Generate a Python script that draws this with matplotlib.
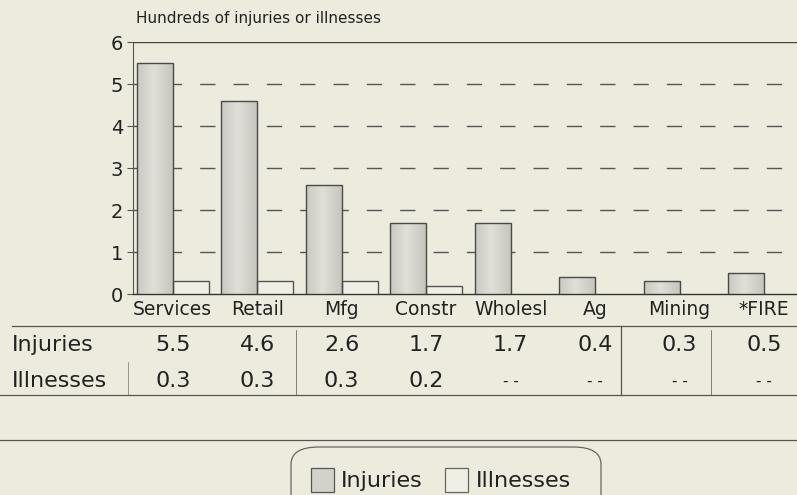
import numpy as np
import matplotlib.pyplot as plt
from matplotlib.colors import LinearSegmentedColormap
from matplotlib.lines import Line2D
from matplotlib.patches import FancyBboxPatch, Rectangle

plt.rcParams['font.family'] = ['DejaVu Sans']

categories = ["Services", "Retail", "Mfg", "Constr", "Wholesl", "Ag", "Mining", "*FIRE"]
injuries = [5.5, 4.6, 2.6, 1.7, 1.7, 0.4, 0.3, 0.5]
illnesses = [0.3, 0.3, 0.3, 0.2, None, None, None, None]
yticks = [0, 1, 2, 3, 4, 5, 6]

bg = "#ecebdd"
ink = "#222222"
W, H = 797, 495
fig = plt.figure(figsize=(W / 100, H / 100), dpi=100, facecolor=bg)


def px(x, y):
    return x / W, 1 - y / H


# plot box in pixels: left 133, right 797, y=6 at 42, y=0 at 294
ax = fig.add_axes([133 / W, 1 - 294 / H, (797 - 133) / W, (294 - 42) / H])
ax.set_facecolor(bg)

x = np.arange(len(categories))
bw = 0.427
shade = LinearSegmentedColormap.from_list("shade", ["#c4c4bb", "#e0e0d8"])
grad = np.linspace(0, 1, 60)
grad = (1 - np.abs(grad - 0.45) * 1.8).reshape(1, -1)
for xi, v in zip(x, injuries):
    bar = ax.bar(xi - bw / 2, v, width=bw, facecolor="none", edgecolor="#4a4a4a", linewidth=1.0, zorder=4)[0]
    im = ax.imshow(grad, extent=[xi - bw, xi, 0, v], aspect="auto", cmap=shade, vmin=0, vmax=1, zorder=3)
    im.set_clip_path(bar)
for xi, v in zip(x, illnesses):
    if v is not None:
        ax.bar(xi + bw / 2, v, width=bw, color="#f0efe5", edgecolor="#555555", linewidth=1.0, zorder=3)

for t in yticks[1:-1]:
    ax.axhline(t, color="#555555", lw=1.0, dashes=(11, 13), zorder=1)
ax.axhline(6, color="#444444", lw=1.0, zorder=1)

ax.set_ylim(0, 6)
ax.set_xlim(-0.47, 7.39)
for s in ["top", "right"]:
    ax.spines[s].set_visible(False)
ax.spines["left"].set_color("#555555")
ax.spines["left"].set_linewidth(0.8)
ax.spines["bottom"].set_color("#333333")
ax.spines["bottom"].set_linewidth(1.0)
ax.set_yticks(yticks)
ax.set_yticklabels([str(t) for t in yticks], fontsize=14, color=ink)
ax.tick_params(axis="y", length=4, pad=3, color="#555555")
ax.set_xticks(x)
ax.set_xticklabels(categories, fontsize=13.5, color=ink)
ax.tick_params(axis="x", length=0, pad=4)

fig.text(*px(136, 18), "Hundreds of injuries or illnesses", fontsize=11, va="center", ha="left", color=ink)

# data table under the chart
col_x = [ax.transData.transform((xi, 0))[0] for xi in x]
row_y = [345, 381]
fig.text(*px(12, row_y[0]), "Injuries", fontsize=16, va="center", ha="left", color=ink)
fig.text(*px(12, row_y[1]), "Illnesses", fontsize=16, va="center", ha="left", color=ink)
for cx, inj, ill in zip(col_x, injuries, illnesses):
    fig.text(cx / W, 1 - row_y[0] / H, f"{inj:.1f}", fontsize=16, va="center", ha="center", color=ink)
    fig.text(cx / W, 1 - row_y[1] / H, "- -" if ill is None else f"{ill:.1f}",
             fontsize=16 if ill is not None else 11, va="center", ha="center", color=ink)

lines = [
    ((12, 326), (797, 326), 0.9),
    ((0, 395), (797, 395), 0.9),
    ((0, 440), (797, 440), 0.9),
    ((296, 330), (296, 395), 0.5),
    ((621, 326), (621, 395), 0.9),
    ((711, 330), (711, 395), 0.5),
    ((128, 362), (128, 395), 0.4),
]
for (x0, y0), (x1, y1), lw in lines:
    fig.add_artist(Line2D([x0 / W, x1 / W], [1 - y0 / H, 1 - y1 / H], color="#555555", lw=lw,
                          transform=fig.transFigure))

# legend
fig.add_artist(FancyBboxPatch(px(291, 515), 310 / W, 68 / H,
                              boxstyle="round,pad=0,rounding_size=0.035",
                              transform=fig.transFigure, facecolor=bg, edgecolor="#666666", lw=0.9))
fig.add_artist(Rectangle(px(311, 492), 23 / W, 24 / H, transform=fig.transFigure,
                         facecolor="#d2d2c9", edgecolor="#555555", lw=0.9))
fig.text(*px(341, 481), "Injuries", fontsize=16, va="center", ha="left", color=ink)
fig.add_artist(Rectangle(px(445, 492), 23 / W, 24 / H, transform=fig.transFigure,
                         facecolor="#f0efe5", edgecolor="#666666", lw=0.9))
fig.text(*px(476, 481), "Illnesses", fontsize=16, va="center", ha="left", color=ink)

fig.savefig("out.png", dpi=100, facecolor=bg)
